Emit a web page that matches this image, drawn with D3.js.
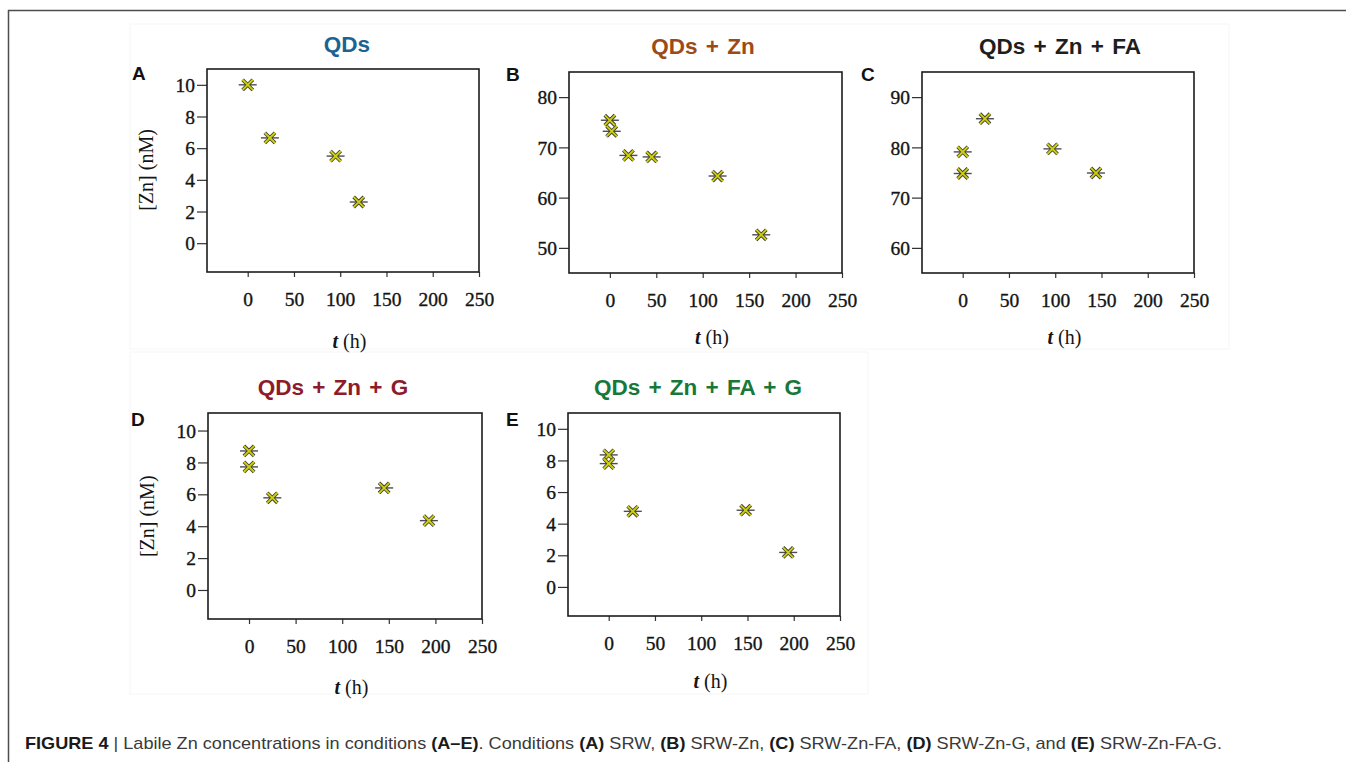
<!DOCTYPE html>
<html>
<head>
<meta charset="utf-8">
<script src="https://cdn.jsdelivr.net/npm/d3@7"></script>
<style>
  html, body { margin: 0; padding: 0; background: #fff; }
  svg { display: block; }
  .tick text { font-family: "Liberation Serif", "DejaVu Serif", serif; font-size: 19.5px; fill: #141414;
               stroke: #141414; stroke-width: 0.35px; }
</style>
</head>
<body>
<svg id="fig" width="1346" height="762"></svg>
<script>
// --- data ---
const letters = ["A", "B", "C", "D", "E"];
const titles = ["QDs", "QDs + Zn", "QDs + Zn + FA", "QDs + Zn + G", "QDs + Zn + FA + G"];
const titleColors = ["#1b6393", "#9c4a17", "#1e1e1e", "#8e1b2b", "#17783a"];

const xTicks = [0, 50, 100, 150, 200, 250];
const znTicksLow = [0, 2, 4, 6, 8, 10];
const znTicksB = [50, 60, 70, 80];
const znTicksC = [60, 70, 80, 90];

const tA = [0, 24, 95, 120];
const znA = [10, 6.65, 5.5, 2.6];

const tB = [0, 2, 20, 45, 116, 163];
const znB = [75.4, 73.2, 68.4, 68.1, 64.3, 52.6];

const tC = [0, 0, 24, 97, 144];
const znC = [79.1, 74.8, 85.7, 79.7, 74.9];

const tD = [0, 0, 25, 145, 193];
const znD = [8.72, 7.72, 5.78, 6.4, 4.35];

const tE = [0, 0, 26, 148, 194];
const znE = [8.35, 7.8, 4.78, 4.85, 2.18];

// --- layout ---
const panels = [
  {t: tA, zn: znA, box: [207, 69, 479, 272], yDom: [-1.82, 11.0], yTicks: znTicksLow, yTitle: true,
   titleX: 347, titleY: 46, letterX: 132, letterY: 80, tTitleY: 348},
  {t: tB, zn: znB, box: [569, 72, 842, 273], yDom: [45, 85], yTicks: znTicksB, yTitle: false,
   titleX: 703, titleY: 48, letterX: 506, letterY: 81, tTitleY: 344},
  {t: tC, zn: znC, box: [922, 72, 1194, 273], yDom: [55, 95], yTicks: znTicksC, yTitle: false,
   titleX: 1060, titleY: 48, letterX: 861, letterY: 81, tTitleY: 344},
  {t: tD, zn: znD, box: [208, 413, 482, 619], yDom: [-1.82, 11.1], yTicks: znTicksLow, yTitle: true,
   titleX: 333, titleY: 389, letterX: 131, letterY: 426, tTitleY: 694},
  {t: tE, zn: znE, box: [568, 413, 840, 616], yDom: [-1.84, 11.0], yTicks: znTicksLow, yTitle: false,
   titleX: 698, titleY: 389, letterX: 506, letterY: 426, tTitleY: 688}
];

const svg = d3.select("#fig");

// faint scan borders of the original panel images
svg.append("rect").attr("x", 130).attr("y", 24).attr("width", 1099).attr("height", 325)
  .attr("fill", "none").attr("stroke", "#f6f6f6");
svg.append("rect").attr("x", 130).attr("y", 352).attr("width", 738).attr("height", 342)
  .attr("fill", "none").attr("stroke", "#f6f6f6");

// outer figure frame (top and left rules)
svg.append("line").attr("x1", 8).attr("x2", 1346).attr("y1", 10.5).attr("y2", 10.5)
  .attr("stroke", "#4d4d4d").attr("stroke-width", 1.5);
svg.append("line").attr("x1", 8.5).attr("x2", 8.5).attr("y1", 10).attr("y2", 762)
  .attr("stroke", "#4d4d4d").attr("stroke-width", 1.5);

const xSym = d3.symbol(d3.symbolTimes, 70);

panels.forEach((p, i) => {
  const [x0, y0, x1, y1] = p.box;
  const x = d3.scaleLinear().domain([-44, 250]).range([x0, x1]);
  const y = d3.scaleLinear().domain(p.yDom).range([y1, y0]);
  const g = svg.append("g");

  // title and panel letter
  g.append("text").attr("x", p.titleX).attr("y", p.titleY).attr("text-anchor", "middle")
    .attr("dominant-baseline", "middle")
    .style("font-family", "'Liberation Sans', Arial, sans-serif").style("font-weight", "bold")
    .style("font-size", "22.5px").style("word-spacing", "2px")
    .attr("fill", titleColors[i]).text(titles[i]);
  g.append("text").attr("x", p.letterX).attr("y", p.letterY)
    .style("font-family", "'Liberation Sans', Arial, sans-serif").style("font-weight", "bold")
    .style("font-size", "19px").attr("fill", "#111").text(letters[i]);

  // axes
  const ya = g.append("g").attr("transform", `translate(${x0},0)`)
    .call(d3.axisLeft(y).tickValues(p.yTicks).tickSize(10).tickPadding(2).tickFormat(d3.format("d")));
  ya.select(".domain").remove();
  ya.selectAll(".tick line").attr("stroke", "#333").attr("stroke-width", 1.2);
  ya.selectAll(".tick text").attr("dy", "0.34em");

  const xa = g.append("g").attr("transform", `translate(0,${y1})`)
    .call(d3.axisBottom(x).tickValues(xTicks).tickSize(5).tickPadding(15).tickFormat(d3.format("d")));
  xa.select(".domain").remove();
  xa.selectAll(".tick line").attr("stroke", "#333").attr("stroke-width", 1.2);

  // plot frame
  g.append("rect").attr("x", x0).attr("y", y0).attr("width", x1 - x0).attr("height", y1 - y0)
    .attr("fill", "none").attr("stroke", "#1c1c1c").attr("stroke-width", 1.6);

  // axis titles
  const tt = g.append("text").attr("x", (x(0) + x(250)) / 2 - 14).attr("y", p.tTitleY)
    .attr("text-anchor", "middle")
    .style("font-family", "'Liberation Serif', 'DejaVu Serif', serif").style("font-size", "20px")
    .attr("fill", "#141414");
  tt.append("tspan").style("font-style", "italic").style("font-weight", "bold").text("t");
  tt.append("tspan").text(" (h)");

  if (p.yTitle) {
    g.append("text")
      .attr("transform", `translate(${x0 - 59},${(y(0) + y(10)) / 2 + 6}) rotate(-90)`)
      .attr("text-anchor", "middle").attr("dominant-baseline", "middle")
      .style("font-family", "'Liberation Serif', 'DejaVu Serif', serif").style("font-size", "20px")
      .attr("fill", "#141414").text("[Zn] (nM)");
  }

  // markers
  const pts = p.t.map((t, k) => ({t: t, zn: p.zn[k]}));
  const m = g.selectAll("g.pt").data(pts).enter().append("g").attr("class", "pt")
    .attr("transform", d => `translate(${x(d.t)},${y(d.zn)})`);
  m.append("line").attr("x1", -9).attr("x2", 9).attr("stroke", "#4a4e54").attr("stroke-width", 1.4);
  m.append("path").attr("d", xSym).attr("fill", "none").attr("stroke", "#3c3c2c").attr("stroke-width", 3.6);
  m.append("path").attr("d", xSym).attr("fill", "none").attr("stroke", "#cfcf12").attr("stroke-width", 1.9);
});

// caption
const cap = svg.append("text").attr("x", 25).attr("y", 749)
  .style("font-family", "'Liberation Sans Narrow', 'Liberation Sans', Arial, sans-serif")
  .style("font-size", "17px").attr("fill", "#3a3a3a")
  .attr("textLength", 1197).attr("lengthAdjust", "spacingAndGlyphs");
const capParts = [
  ["FIGURE 4", true], [" | ", false], ["Labile Zn concentrations in conditions ", false], ["(A–E)", true],
  [". Conditions ", false], ["(A)", true], [" SRW, ", false], ["(B)", true], [" SRW-Zn, ", false],
  ["(C)", true], [" SRW-Zn-FA, ", false], ["(D)", true], [" SRW-Zn-G, and ", false], ["(E)", true],
  [" SRW-Zn-FA-G.", false]
];
capParts.forEach(([s, b]) => {
  const ts = cap.append("tspan").text(s);
  if (b) ts.style("font-weight", "bold").attr("fill", "#1a1a1a");
});
</script>
</body>
</html>
